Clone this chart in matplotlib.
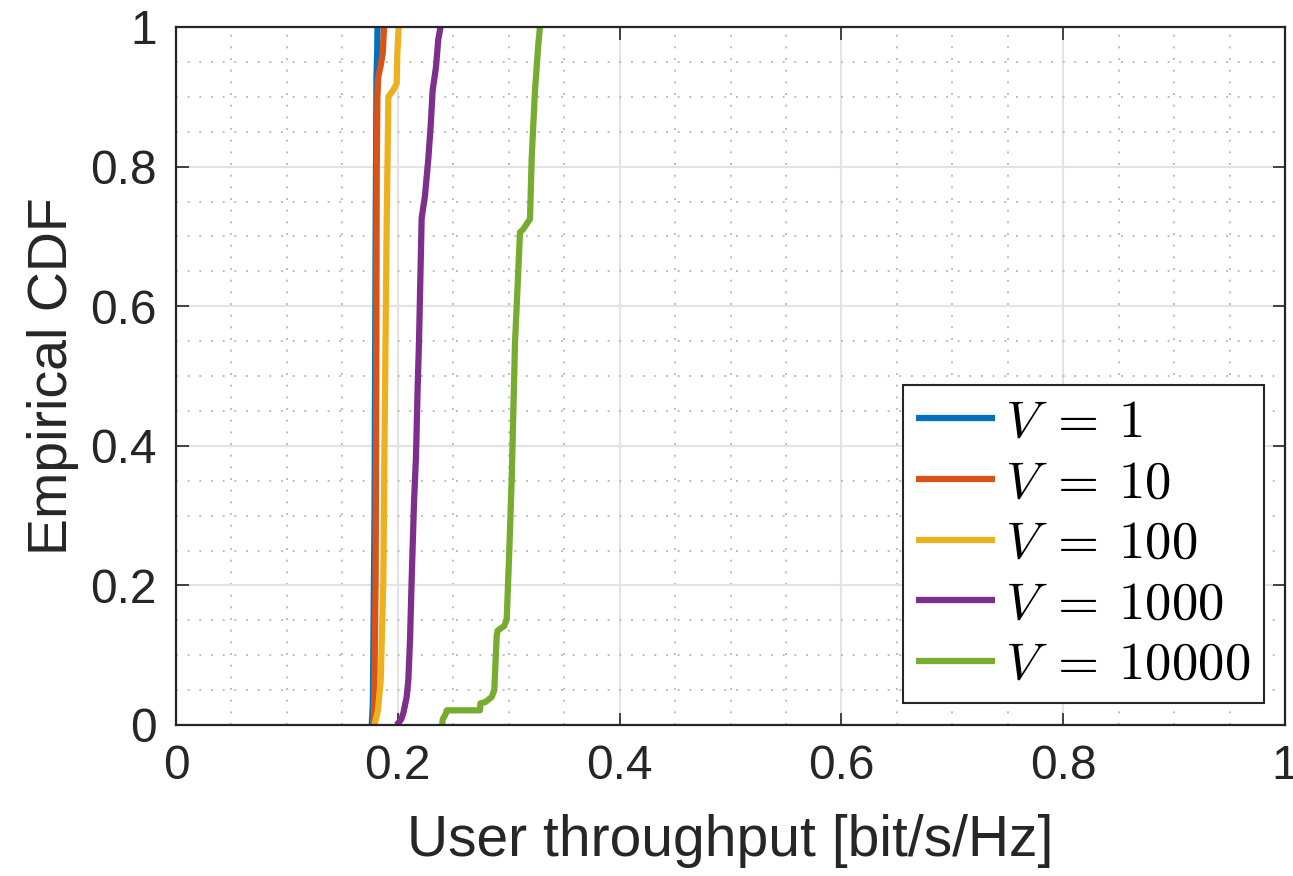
import numpy as np
import matplotlib
matplotlib.use('Agg')
import matplotlib.pyplot as plt
from matplotlib.ticker import MultipleLocator, FuncFormatter

# CDF curves (throughput, cumulative probability)
v1_x = [0.1765, 0.1775, 0.1790, 0.1800, 0.1808, 0.1815, 0.1817]
v1_y = [0.0, 0.03, 0.30, 0.70, 0.93, 0.97, 1.0]

v10_x = [0.1780, 0.1787, 0.1800, 0.1806, 0.1810, 0.1816, 0.1824, 0.1846, 0.1864, 0.1876]
v10_y = [0.0, 0.026, 0.208, 0.50, 0.80, 0.90, 0.929, 0.945, 0.962, 1.0]

v100_x = [0.1790, 0.1820, 0.1846, 0.1870, 0.1880, 0.1890, 0.1900, 0.1915, 0.1960, 0.1990, 0.1996, 0.2008]
v100_y = [0.0, 0.02, 0.064, 0.208, 0.40, 0.56, 0.72, 0.900, 0.910, 0.919, 0.962, 1.0]

v1000_x = [0.1990, 0.2030, 0.2050, 0.2080, 0.2095, 0.2110, 0.2125, 0.2146, 0.2164, 0.2179,
           0.2191, 0.2200, 0.2215, 0.2245, 0.2275, 0.2296, 0.2314, 0.2344, 0.2365, 0.2385]
v1000_y = [0.0, 0.008, 0.017, 0.040, 0.064, 0.121, 0.208, 0.318, 0.384, 0.483,
           0.548, 0.614, 0.726, 0.758, 0.811, 0.857, 0.909, 0.942, 0.982, 1.0]

v10000_x = [0.2400, 0.2405, 0.2435, 0.2441, 0.2741, 0.2745, 0.2790, 0.2846, 0.2870, 0.2892,
            0.2900, 0.2960, 0.2982, 0.3006, 0.3027, 0.3042, 0.3057, 0.3072, 0.3102, 0.3130,
            0.3192, 0.3207, 0.3237, 0.3267, 0.3282]
v10000_y = [0.0, 0.008, 0.017, 0.021, 0.021, 0.031, 0.033, 0.040, 0.050, 0.128,
            0.135, 0.142, 0.151, 0.253, 0.351, 0.450, 0.548, 0.600, 0.706, 0.710,
            0.725, 0.811, 0.909, 0.975, 1.0]

labels = [r'$V\;=\:1$', r'$V\;=\:10$', r'$V\;=\:100$', r'$V\;=\:1000$', r'$V\;=\:10000$']
colors = ['#0072BD', '#D95319', '#EDB120', '#7E2F8E', '#77AC30']


def main():
    plt.rcParams['font.family'] = ['Liberation Sans', 'DejaVu Sans']
    plt.rcParams['mathtext.fontset'] = 'cm'

    fig = plt.figure(figsize=(12.93, 8.76), dpi=100)
    ax = fig.add_axes([176 / 1293, 151 / 876, 1109 / 1293, 698 / 876])

    series = [(v1_x, v1_y), (v10_x, v10_y), (v100_x, v100_y),
              (v1000_x, v1000_y), (v10000_x, v10000_y)]
    for (xs, ys), lab, c in zip(series, labels, colors):
        ax.plot(xs, ys, color=c, lw=4.5, label=lab, solid_capstyle='butt')

    ax.set_xlim(0, 1)
    ax.set_ylim(0, 1)
    ax.xaxis.set_major_locator(MultipleLocator(0.2))
    ax.yaxis.set_major_locator(MultipleLocator(0.2))
    ax.xaxis.set_minor_locator(MultipleLocator(0.05))
    ax.yaxis.set_minor_locator(MultipleLocator(0.05))
    fmt = FuncFormatter(lambda v, p: '%g' % round(v, 2))
    ax.xaxis.set_major_formatter(fmt)
    ax.yaxis.set_major_formatter(fmt)

    ax.grid(True, which='major', color='#e3e3e3', lw=1.5, ls='-')
    ax.grid(True, which='minor', color='#bdbdbd', lw=1.4, ls=(0, (1, 5)))
    ax.set_axisbelow(True)

    ax.tick_params(which='major', direction='in', length=9, width=1.2,
                   colors='#262626', labelsize=34.5, pad=14, top=True, right=True)
    ax.tick_params(which='minor', length=0)
    for s in ax.spines.values():
        s.set_color('#262626')
        s.set_linewidth(1.6)

    ax.set_xlabel('User throughput [bit/s/Hz]', fontsize=41, color='#262626', labelpad=18)
    ax.set_ylabel('Empirical CDF', fontsize=40, color='#262626', labelpad=8)

    leg = ax.legend(loc='lower right', bbox_to_anchor=(0.981, 0.031), fontsize=38,
                    handlelength=1.5, handletextpad=0.2, labelspacing=0.2,
                    borderpad=0.25, borderaxespad=0, fancybox=False, framealpha=1)
    leg.get_frame().set_edgecolor('#262626')
    leg.get_frame().set_linewidth(1.5)

    fig.savefig('out.png', dpi=100)


if __name__ == '__main__':
    main()
